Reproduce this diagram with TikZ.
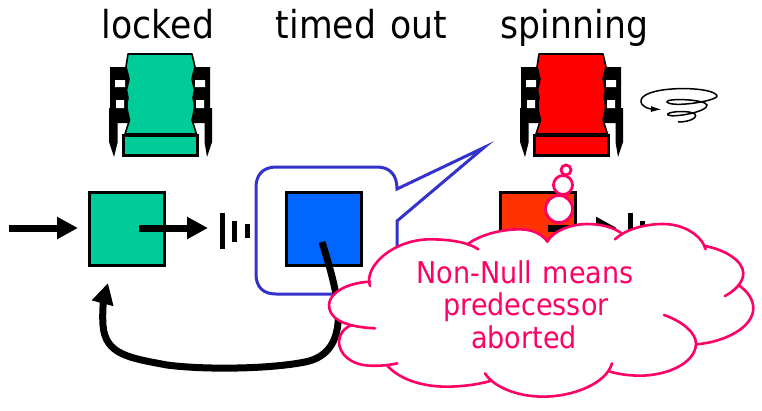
\documentclass[tikz,border=0pt]{standalone}
\usepackage{fontspec}
\setmainfont[FakeStretch=0.9]{DejaVu Sans}
\usetikzlibrary{arrows.meta}
\definecolor{seatgreen}{HTML}{00CC99}
\definecolor{boxblue}{HTML}{0066FF}
\definecolor{boxorange}{HTML}{FF3300}
\definecolor{callblue}{HTML}{3333CC}
\definecolor{cloudpink}{HTML}{FF0066}
\tikzset{
  x=1pt,y=-1pt,
  qbox/.style={draw=black,line width=3pt,minimum width=75pt,minimum height=73pt,inner sep=0pt,outer sep=0pt},
  flow/.style={line width=7pt,-{Triangle[width=21pt,length=21pt]}},
  barline/.style={line width=5pt},
  toplabel/.style={anchor=base,inner sep=0pt,font=\fontsize{38.5}{38.5}\selectfont},
  cloudtext/.style={anchor=base,inner sep=0pt,text=cloudpink,font=\fontsize{30}{30}\selectfont},
  lobefill/.style={fill=white},
  lobeline/.style={draw=cloudpink,line width=2.6pt,line cap=round},
  bubble/.style={circle,draw=cloudpink,fill=white,line width=2.8pt,inner sep=0pt,outer sep=0pt},
}
\newcommand{\seatdraw}[2]{%
\begin{scope}[xshift=#1pt]
 \fill[black] (110,67)--(130,67)--(130,123)--(117.7,123)--(117.7,142)--(114,157)--(109,142)--(109,108)--(110,108)--cycle;
 \fill[black] (210,67)--(190,67)--(190,123)--(204.5,123)--(204.5,142)--(207,157)--(212,142)--(212,108)--(210,108)--cycle;
 \fill[white] (115,80) rectangle (125,87) (116,100) rectangle (124,108);
 \fill[white] (195,80) rectangle (205,87) (196,100) rectangle (204,108);
 \draw[line width=1.6pt,line join=round,fill=#2] (128,54)--(126,67)--(129,79) .. controls (127,84) .. (126.5,90) .. controls (127,94) .. (128,98) .. controls (126,104) and (127,110) .. (129.5,120)--(125,134)--(196.5,134)--(192,120) .. controls (194.5,110) and (195.5,104) .. (193,98) .. controls (194,94) .. (194.5,90) .. controls (194,84) .. (192,79)--(195,67)--(192,54)--cycle;
 \draw[line width=3pt,fill=#2] (123.8,135.5) rectangle (197.8,155.5);
\end{scope}}
\newcommand{\cloudlobes}[1]{%
 \path[#1] (165,355) .. controls (60,350) and (27,320) .. (27,285) .. controls (27,250) and (80,218) .. (150,215);
 \path[#1] (150,228) .. controls (130,170) and (220,88) .. (330,88) .. controls (400,88) and (450,100) .. (475,118);
 \path[#1] (442,103) .. controls (480,75) and (540,58) .. (600,58) .. controls (640,58) and (670,75) .. (682,95);
 \path[#1] (682,95) .. controls (700,60) and (760,42) .. (800,42) .. controls (845,42) and (880,52) .. (905,70);
 \path[#1] (885,88) .. controls (920,55) and (980,42) .. (1030,42) .. controls (1090,42) and (1145,75) .. (1157,118);
 \path[#1] (1155,108) .. controls (1220,120) and (1270,155) .. (1270,190) .. controls (1270,220) and (1240,245) .. (1215,258);
 \path[#1] (1255,225) .. controls (1285,245) and (1300,270) .. (1300,295) .. controls (1300,350) and (1220,395) .. (1130,403);
 \path[#1] (1032,315) .. controls (1090,335) and (1128,370) .. (1128,400) .. controls (1128,460) and (1040,497) .. (960,497) .. controls (925,497) and (895,492) .. (870,485);
 \path[#1] (876,460) .. controls (860,520) and (760,560) .. (670,560) .. controls (590,560) and (520,530) .. (495,490);
 \path[#1] (515,512) .. controls (470,525) and (420,530) .. (380,530) .. controls (300,530) and (235,505) .. (200,465);
 \path[#1] (232,460) .. controls (200,467) and (170,468) .. (150,467) .. controls (90,465) and (57,430) .. (57,395) .. controls (57,375) and (70,355) .. (95,345);
}
\begin{document}
\begin{tikzpicture}
\useasboundingbox (0,0) rectangle (762,410);
\node[toplabel] (lblA) at (158,38) {locked};
\node[toplabel] (lblB) at (361.5,38) {timed\hspace{3pt} out};
\node[toplabel] (lblC) at (574.5,38) {spinning};
\seatdraw{0}{seatgreen}
\seatdraw{411}{red}
% spiral
\draw[line width=1.5pt,-{Latex[length=11pt,width=6pt]}] (678,122) .. controls (692,122) and (700,116) .. (693,113) .. controls (685,110) and (665,112) .. (668,115) .. controls (672,118) and (708,112) .. (707,105) .. controls (705,99) and (665,98) .. (667,102) .. controls (672,108) and (717,101) .. (717,96) .. controls (715,86) and (645,85) .. (641,100) .. controls (640,107) and (650,109) .. (662,109.5);
% callout
\draw[draw=callblue,line width=3pt,fill=white] (276,167) -- (377,167) .. controls (390,167) and (397,175) .. (397,189) -- (484,147.5) -- (397,221) -- (397,274) .. controls (397,288) and (390,294) .. (377,294) -- (276,294) .. controls (263,294) and (256,287) .. (256,274) -- (256,187) .. controls (256,175) and (263,167) .. (276,167) -- cycle;
% boxes
\node[qbox,fill=seatgreen] (gbox) at (127,229) {};
\node[qbox,fill=boxblue] (bbox) at (324,229) {};
\node[qbox,fill=boxorange] (obox) at (537.5,229) {};
% flows
\coordinate (inS) at (9,228); \coordinate (inE) at (78,228);
\draw[flow] (inS) -- (inE);
\coordinate (g1) at (139,228); \coordinate (g2) at (208,228);
\draw[flow] (g1) -- (g2);
\coordinate (o1) at (548,228); \coordinate (o2) at (617,228);
\draw[flow] (o1) -- (o2);
\foreach \bx in {0,408}{
 \draw[barline] (222.5+\bx,213) -- (222.5+\bx,249);
 \draw[barline] (234.5+\bx,221) -- (234.5+\bx,241.5);
 \draw[barline] (247.5+\bx,224) -- (247.5+\bx,238);
}
% return arrow
\coordinate (retS) at (322,242); \coordinate (retE) at (108,283);
\draw[flow] (retS) .. controls (330,268) and (340,300) .. (338,323) .. controls (336,345) and (325,358) .. (305,362) .. controls (270,369) and (205,370) .. (167,365) .. controls (130,358) and (105,355) .. (103,325) .. controls (102,312) and (104,298) .. (retE);
% cloud
\begin{scope}[shift={(320,210)},x=0.3333pt,y=-0.3333pt]
\fill[white] (150,222) -- (250,130) -- (380,100) -- (460,100) -- (540,80) -- (620,75) -- (682,95) -- (720,75) -- (860,65) -- (895,80) -- (950,65) -- (1100,80) -- (1155,113) -- (1235,170) -- (1235,240) -- (1280,300) -- (1130,395) -- (1100,440) -- (872,472) -- (700,540) -- (505,500) -- (380,510) -- (215,462) -- (90,440) -- (80,345) -- cycle;
\cloudlobes{lobefill}
\cloudlobes{lobeline}
\end{scope}
\node[cloudtext] (t1) at (525,283) {Non-Null\hspace{2pt} means};
\node[cloudtext] (t2) at (526,315) {predecessor};
\node[cloudtext] (t3) at (524,348) {aborted};
% bubbles
\node[bubble,minimum size=27pt] (b3) at (559,209) {};
\node[bubble,minimum size=19pt] (b2) at (563,185) {};
\node[bubble,minimum size=10pt] (b1) at (566,170) {};
\end{tikzpicture}
\end{document}
